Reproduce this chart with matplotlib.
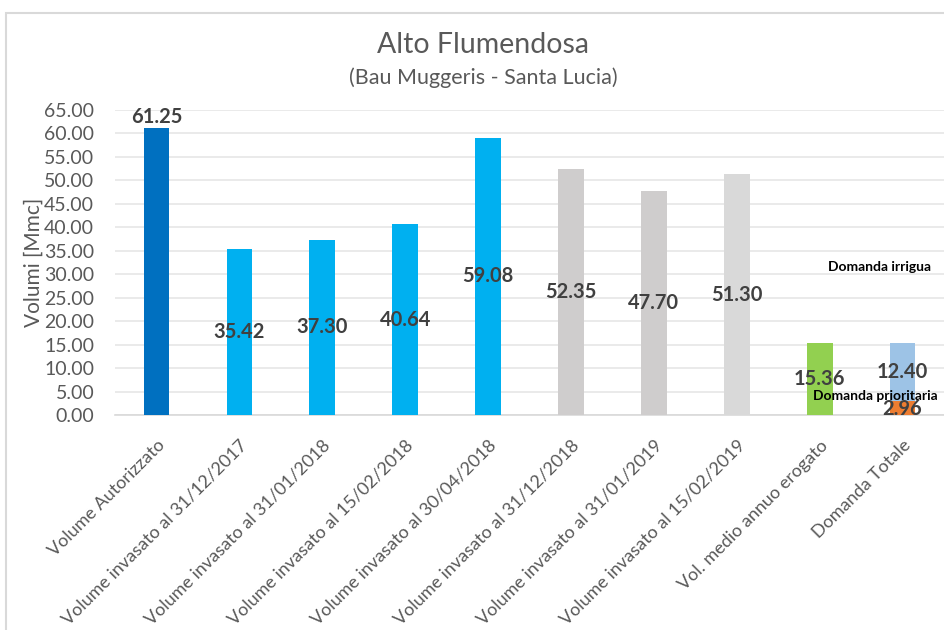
import matplotlib.pyplot as plt
from matplotlib.patches import Rectangle

plt.rcParams['font.family'] = ['Lato', 'DejaVu Sans']

categories = [
    "Volume Autorizzato",
    "Volume invasato al 31/12/2017",
    "Volume invasato al 31/01/2018",
    "Volume invasato al 15/02/2018",
    "Volume invasato al 30/04/2018",
    "Volume invasato al 31/12/2018",
    "Volume invasato al 31/01/2019",
    "Volume invasato al 15/02/2019",
    "Vol. medio annuo erogato",
    "Domanda Totale",
]
volumes = [61.25, 35.42, 37.30, 40.64, 59.08, 52.35, 47.70, 51.30, 15.36]
bar_colors = ["#0070C0", "#00B0F0", "#00B0F0", "#00B0F0", "#00B0F0",
              "#CFCDCD", "#CFCDCD", "#D9D9D9", "#92D050"]
domanda_prioritaria = 2.96
domanda_irrigua = 12.40

fig = plt.figure(figsize=(9.45, 6.3), dpi=100)
ax = fig.add_axes([0.1217, 0.3413, 0.8773, 0.4841])

w = 0.31
label_col = "#404040"
vfs = 14.5
x = list(range(len(volumes)))
ax.bar(x, volumes, width=w, color=bar_colors, zorder=3)

# stacked demand bar
last = len(categories) - 1
ax.bar(last, domanda_prioritaria, width=w, color="#ED7D31", zorder=3)
ax.bar(last, domanda_irrigua, width=w, bottom=domanda_prioritaria,
       color="#9DC3E6", zorder=3)

# value labels
ax.text(0, volumes[0] + 0.1, f"{volumes[0]:.2f}", ha="center", va="bottom",
        fontsize=vfs, fontweight="bold", color=label_col, zorder=4)
for i in range(1, len(volumes)):
    ax.text(i, volumes[i] / 2, f"{volumes[i]:.2f}", ha="center", va="center",
            fontsize=vfs, fontweight="bold", color=label_col, zorder=4)
ax.text(last, domanda_prioritaria + domanda_irrigua / 2, f"{domanda_irrigua:.2f}",
        ha="center", va="center", fontsize=vfs, fontweight="bold",
        color=label_col, zorder=4)
ax.text(last, domanda_prioritaria / 2 - 0.3, f"{domanda_prioritaria:.2f}",
        ha="center", va="center", fontsize=vfs, fontweight="bold",
        color=label_col, zorder=4)

ax.text(last - 0.28, 31.5, "Domanda irrigua", ha="center", va="center",
        fontsize=10, fontweight="bold", color="black", zorder=5)
ax.text(last - 0.33, 4.0, "Domanda prioritaria", ha="center", va="center",
        fontsize=10, fontweight="bold", color="black", zorder=5)

ax.set_xlim(-0.5, len(categories) - 0.5)
ax.set_ylim(0, 65)
ax.set_yticks([i * 5 for i in range(14)])
ax.set_yticklabels([f"{i * 5:.2f}" for i in range(14)])
ax.yaxis.grid(True, color="#E6E6E6", linewidth=1.2, zorder=0)
ax.set_axisbelow(True)

ax.set_xticks(range(len(categories)))
ax.set_xticklabels(categories, rotation=45, ha="right", rotation_mode="anchor",
                   fontsize=13, color="#595959")
ax.tick_params(axis="both", length=0)
ax.tick_params(axis="y", labelsize=14, labelcolor="#595959", pad=15)
ax.tick_params(axis="x", pad=16)

for side in ["top", "right", "left"]:
    ax.spines[side].set_visible(False)
ax.spines["bottom"].set_color("#D9D9D9")
ax.spines["bottom"].set_linewidth(1.2)

ax.set_ylabel("Volumi [Mmc]", fontsize=15, color="#595959", labelpad=0)

fig.text(0.511, 0.928, "Alto Flumendosa", ha="center", va="center",
         fontsize=20.5, color="#595959")
fig.text(0.511, 0.877, "(Bau Muggeris - Santa Lucia)", ha="center",
         va="center", fontsize=15.5, color="#595959")

# outer chart frame
fig.patches.append(Rectangle((6 / 945, -0.05), 1.0, 1.05 - 13 / 630,
                             transform=fig.transFigure, fill=False,
                             edgecolor="#D9D9D9", linewidth=1.5))

fig.savefig("out.png", dpi=100)
